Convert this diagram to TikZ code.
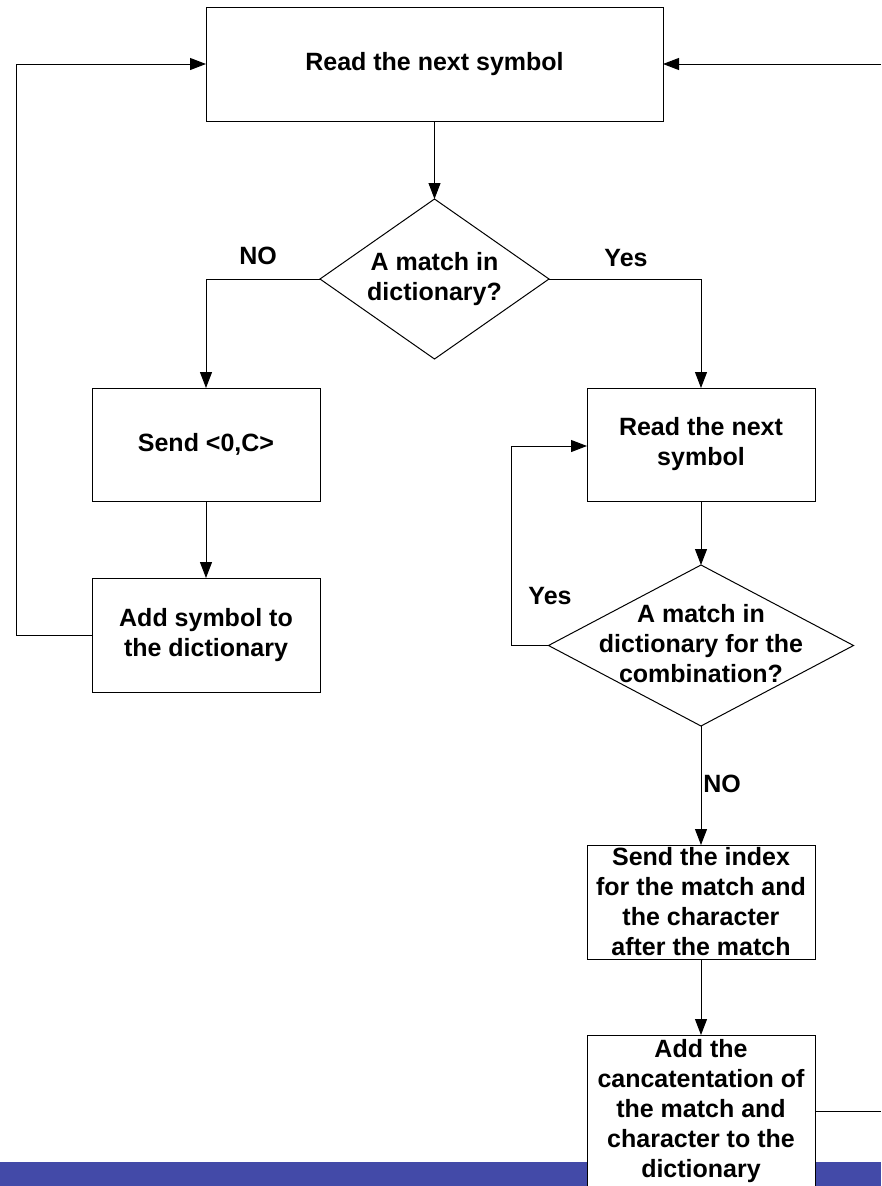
\documentclass[tikz,border=0pt]{standalone}
\usepackage{fontspec}
\setmainfont{Liberation Sans}
\usetikzlibrary{shapes.geometric,arrows.meta}
\definecolor{barblue}{RGB}{67,74,168}
\begin{document}
\begin{tikzpicture}[x=1pt,y=-1pt,
  every node/.style={font=\fontsize{25}{30}\selectfont\bfseries},
  box/.style={draw=black,fill=white,line width=1pt,rectangle,inner sep=0pt,outer sep=0pt,
              minimum width=228pt,align=center},
  decision/.style={draw=black,fill=white,line width=1pt,diamond,inner sep=0pt,outer sep=0pt},
  lbl/.style={inner sep=0pt,align=center},
  arr/.style={line width=1pt,-{Triangle[length=16pt,width=12pt]}},
  link/.style={line width=1pt}]
\useasboundingbox (0,0) rectangle (881,1186);
% footer band
\fill[barblue] (0,1162) rectangle (881,1186);

% process boxes
\node[box,minimum width=457pt,minimum height=114pt] (top) at (434.5,64) {Read the next symbol};
\node[box,minimum height=113pt] (send) at (206,444.5) {Send <0,C>};
\node[box,minimum height=114pt] (add) at (206,635) {Add symbol to\\the dictionary};
\node[box,minimum height=113pt] (read) at (701,444.5) {Read the next\\symbol};
\node[box,minimum height=114pt] (sendidx) at (701,902) {Send the index\\for the match and\\the character\\after the match};
\node[box,minimum height=152pt] (concat) at (701,1111) {Add the\\cancatentation of\\the match and\\character to the\\dictionary};

% decisions
\node[decision,minimum width=229pt,minimum height=160pt] (d1) at (434.5,279) {};
\node[lbl] (d1t) at (d1.center) {A match in\\dictionary?};
\node[decision,minimum width=305pt,minimum height=161pt] (d2) at (701,645.5) {};
\node[lbl] (d2t) at (701,644) {A match in\\dictionary for the\\combination?};

% branch labels
\node[lbl] (no1) at (258,256) {NO};
\node[lbl] (yes1) at (626,258) {Yes};
\node[lbl] (yes2) at (550,596) {Yes};
\node[lbl] (no2) at (722,784) {NO};

% route points
\coordinate (leftrail) at (16,0);
\coordinate (looprail) at (511,0);
\coordinate (rightrail) at (881,0);

% connectors
\draw[arr] (top.south) -- (d1.north);
\draw[arr] (d1.west) -| (send.north);
\draw[arr] (send.south) -- (add.north);
\draw[arr] (add.west) -- (add.west -| leftrail) |- (top.west);
\draw[arr] (d1.east) -| (read.north);
\draw[arr] (read.south) -- (d2.north);
\draw[arr] (d2.west) -- (d2.west -| looprail) |- ([yshift=-1.5pt]read.west);
\draw[arr] (d2.south) -- (sendidx.north);
\draw[arr] (sendidx.south) -- (concat.north);
\draw[link] (concat.east) -- (concat.east -| rightrail);
\draw[arr] (top.east -| rightrail) -- (top.east);
\end{tikzpicture}
\end{document}
